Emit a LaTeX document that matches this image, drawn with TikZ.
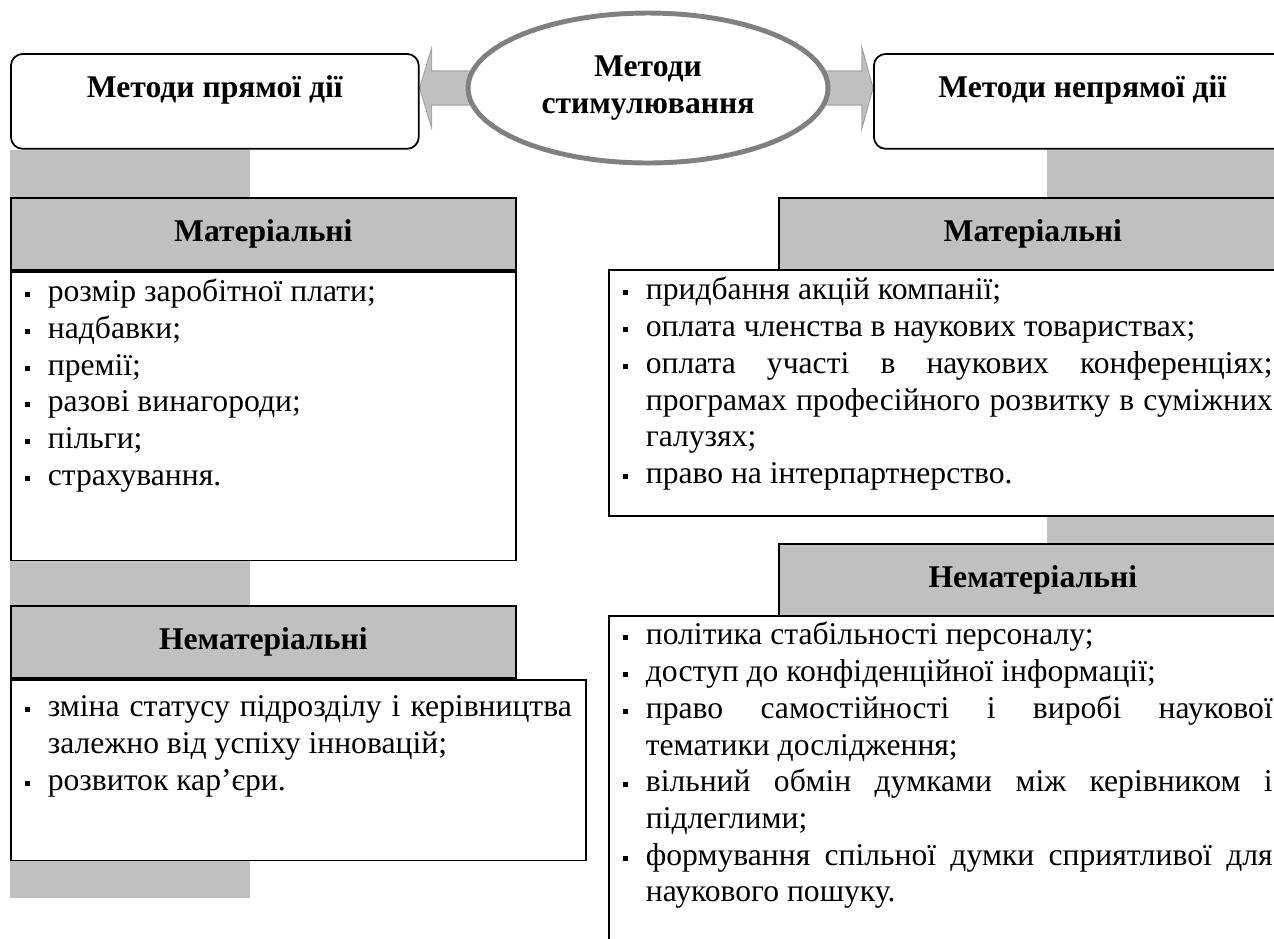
\documentclass[tikz,border=0pt]{standalone}
\usepackage{fontspec}
\setmainfont{Liberation Serif}
\usetikzlibrary{shapes.geometric, backgrounds}

\definecolor{barfill}{HTML}{C0C0C0}
\definecolor{ringgray}{HTML}{808080}
\definecolor{arrowedge}{HTML}{A6A6A6}

\newcommand{\diagfont}{\fontsize{18}{20.9}\selectfont}
\newcommand{\punkt}[1]{\noindent\hangindent=0.46cm\hangafter=1\makebox[0.46cm][l]{\rule[0.09cm]{0.1cm}{0.1cm}}#1\par}

\begin{document}
\begin{tikzpicture}[
    x=0.02cm, y=-0.02cm,
    rootbox/.style={rectangle, rounded corners=0.24cm, draw, line width=1pt, fill=white, anchor=north west, inner sep=0pt, text height=0.88cm, text depth=1.02cm, font=\diagfont\bfseries},
    headbox/.style={rectangle, draw, line width=1pt, fill=barfill, anchor=north west, minimum height=1.44cm, inner sep=0pt, font=\diagfont\bfseries},
    listbox/.style={rectangle, draw, line width=1pt, fill=white, anchor=north west, inner xsep=0.28cm, inner ysep=0pt, align=justify, font=\diagfont},
    bar/.style={fill=barfill},
    blockarrow/.style={fill=barfill, draw=arrowedge, line width=0.6pt}
]
\useasboundingbox (0,0) rectangle (1274,938);

\node[rootbox, minimum width=8.16cm] (pryama) at (10,53) {Методи прямої дії};
\node[rootbox, minimum width=8.34cm] (nepryama) at (873,53) {Методи непрямої дії};
\node[ellipse, draw=ringgray, line width=2.8pt, fill=white, minimum width=7.2cm, minimum height=3cm, inner sep=0pt, align=center, font=\diagfont\bfseries] (stym) at (648,88) {Методи\\стимулювання};

% left column
\node[headbox, minimum width=10.1cm] (matl) at (10,197) {Матеріальні};
\node[listbox, text width=9.54cm, text height=0.6cm, text depth=5.18cm] (matlist) at (matl.south west) {
    \punkt{розмір заробітної плати;}
    \punkt{надбавки;}
    \punkt{премії;}
    \punkt{разові винагороди;}
    \punkt{пільги;}
    \punkt{страхування.}
};
\node[headbox, minimum width=10.1cm] (nematl) at (10,605) {Нематеріальні};
\node[listbox, text width=10.94cm, text height=0.74cm, text depth=2.88cm] (nematlist) at (nematl.south west) {
    \punkt{зміна статусу підрозділу і керівництва\linebreak залежно від успіху інновацій;}
    \punkt{розвиток кар’єри.}
};

% right column
\node[headbox, minimum width=10.16cm] (matr) at (778,197) {Матеріальні};
\node[listbox, text width=13cm, text height=0.6cm, text depth=4.32cm] (matrlist) at (608,269) {
    \punkt{придбання акцій компанії;}
    \punkt{оплата членства в наукових товариствах;}
    \punkt{оплата участі в наукових конференціях;\linebreak програмах професійного розвитку в суміжних\linebreak галузях;}
    \punkt{право на інтерпартнерство.}
};
\node[headbox, minimum width=10.16cm] (nematr) at (778,543) {Нематеріальні};
\node[listbox, text width=13cm, text height=0.58cm, text depth=6.2cm] (nematrlist) at (608,615) {
    \punkt{політика стабільності персоналу;}
    \punkt{доступ до конфіденційної інформації;}
    \punkt{право самостійності і виробі наукової\linebreak тематики дослідження;}
    \punkt{вільний обмін думками між керівником і\linebreak підлеглими;}
    \punkt{формування спільної думки сприятливої для\linebreak наукового пошуку.}
};

\begin{scope}[on background layer]
    \fill[bar] (pryama.south west) rectangle ([xshift=4.8cm]matl.north west);
    \fill[bar] (matlist.south west) rectangle ([xshift=4.8cm]nematl.north west);
    \fill[bar] (nematlist.south west) rectangle ++(240,37);
    \fill[bar] ([xshift=-4.82cm]matr.north east) rectangle (nepryama.south east);
    \fill[bar] ([xshift=-4.82cm]nematr.north east) rectangle (matrlist.south east);
    \path[blockarrow] (pryama.east |- stym.center) -- ++(12,-40) -- ++(0,23) -- ++(50,0) -- ++(0,34) -- ++(-50,0) -- ++(0,23) -- cycle;
    \path[blockarrow] (nepryama.west |- stym.center) -- ++(-11,-40) -- ++(0,23) -- ++(-50,0) -- ++(0,34) -- ++(50,0) -- ++(0,23) -- cycle;
\end{scope}
\end{tikzpicture}
\end{document}
